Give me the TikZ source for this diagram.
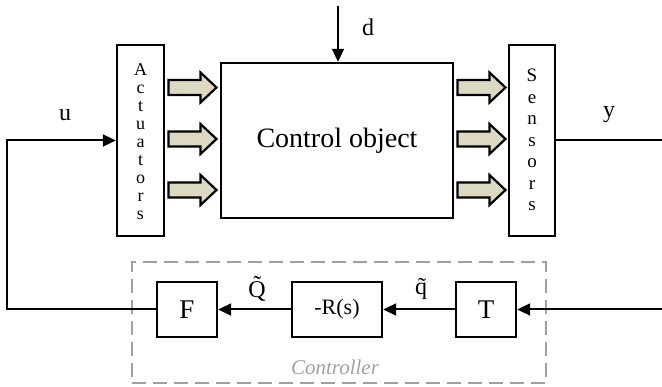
\documentclass[tikz,border=0pt]{standalone}
\usepackage{fontspec}
\setmainfont{Liberation Serif}
\usetikzlibrary{arrows.meta}
\definecolor{arrfill}{HTML}{DCD8C2}
\definecolor{dashgray}{HTML}{A0A0A0}
\tikzset{
  blk/.style={draw, line width=2.4pt, inner sep=0pt, fill=white},
  conn/.style={line width=2pt},
  tip/.style={-{Triangle[length=13pt,width=12pt]}},
  lbl/.style={font=\fontsize{24}{26}\selectfont, inner sep=0pt},
  vtext/.style={align=center, inner sep=0pt},
  barrow/.pic={\draw[line width=2.2pt, fill=arrfill, line join=miter]
     (-24,-7.5) -- (8,-7.5) -- (8,-15) -- (24,0) -- (8,15) -- (8,7.5) -- (-24,7.5) -- cycle;}
}
\begin{document}
\begin{tikzpicture}[x=1pt,y=-1pt]
\useasboundingbox (0,0) rectangle (662,387);
% main blocks
\node[blk, minimum width=47pt, minimum height=191pt] (act) at (140.5,140.5) {};
\node[vtext, font=\fontsize{18}{18}\selectfont] (acttext) at (140.5,142) {A\\c\\t\\u\\a\\t\\o\\r\\s};
\node[blk, minimum width=232pt, minimum height=155pt, font=\fontsize{28}{30}\selectfont] (obj) at (337,140.5) {Control object};
\node[blk, minimum width=46pt, minimum height=191pt] (sen) at (532,140.5) {};
\node[vtext, font=\fontsize{19}{21.5}\selectfont] (sentext) at (532,140) {S\\e\\n\\s\\o\\r\\s};
% block arrows
\foreach \yy in {87.5,139,190}{
  \pic at (192.5,\yy) {barrow};
  \pic at (481.5,\yy) {barrow};
}
% controller blocks
\node[draw=dashgray, dashed, dash pattern=on 14pt off 7pt, line width=2pt, minimum width=414pt, minimum height=121pt] (ctrl) at (339,322.5) {};
\node[blk, minimum width=60pt, minimum height=55pt, font=\fontsize{27}{29}\selectfont] (F) at (187,309.5) {F};
\node[blk, minimum width=90pt, minimum height=55pt, font=\fontsize{22}{24}\selectfont] (R) at (337,309.5) {-R(s)};
\node[blk, minimum width=60pt, minimum height=55pt, font=\fontsize{27}{29}\selectfont] (T) at (486,309.5) {T};
\node[lbl, text=dashgray, font=\fontsize{21}{23}\itshape] (ctrllbl) at (335,367) {Controller};
% coordinates
\coordinate (dtop) at (338,6);
\coordinate (ul) at (7,309.5);
\coordinate (yr) at (662,140);
\coordinate (fbr) at (662,309.5);
% connectors
\draw[conn, tip] (dtop) -- (obj.north -| dtop);
\draw[conn, tip] (F.west) -- (ul) |- (act.west);
\draw[conn] (sen.east |- yr) -- (yr);
\draw[conn, tip] (fbr) -- (T.east);
\draw[conn, tip] (T.west) -- (R.east);
\draw[conn, tip] (R.west) -- (F.east);
% labels
\node[lbl] (dl) at (368,27) {d};
\node[lbl] (ul2) at (65,115) {u};
\node[lbl] (yl) at (609,115) {y};
\node[lbl] (Ql) at (257,289) {\~{Q}};
\node[lbl] (ql) at (421,289) {\~{q}};
\end{tikzpicture}
\end{document}
